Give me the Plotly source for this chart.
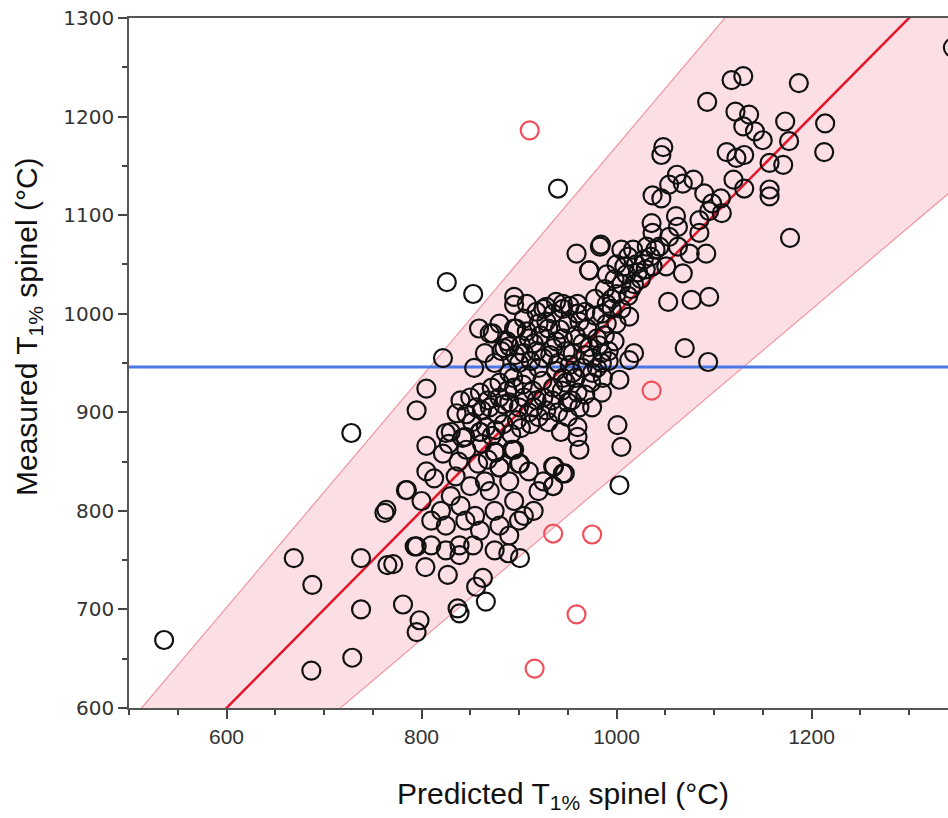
import plotly.graph_objects as go

# Predicted vs measured T1% spinel (°C)
pred_black = [
    536, 669, 688, 728, 738, 738, 729, 687, 762, 765, 771, 793, 795, 810, 825, 839, 853, 875, 889, 901,
    839, 804, 827, 863, 856, 866, 781, 798, 795, 837, 839,
    795, 805, 836, 825, 842, 860, 876, 893, 901, 805, 813, 880, 764, 784,
    1118, 1130, 1187, 1093, 1122, 1136, 1130, 1142, 1150, 1173, 1177, 1214, 1213, 1048, 1046, 1113, 1123,
    1131, 1157, 1171, 1062, 1068, 1079, 1054, 1037, 1046, 1120, 1131, 1157, 1157, 1090, 1098, 1107, 1108,
    1095, 1036, 1037, 1061, 1063, 1054, 1085, 1085, 1178, 984, 1345, 940,
    959, 983, 1005, 1017, 1031, 1044, 1063, 1075, 1092, 1068, 1051, 1037, 972, 1053, 1077, 1095, 1013,
    1018, 1013, 1070, 1094, 1003, 1001, 1005, 1003, 960, 962, 936, 947, 935,
    826, 853, 859, 873, 895, 895, 928, 897, 890, 822, 854, 805,
    905, 915, 925, 935, 945, 955, 965, 940, 920, 930, 950, 960, 970, 980, 990, 975, 985, 995, 1000, 1005,
    1010, 1015, 1020, 1025, 1030, 1000, 990, 960, 945, 935, 920, 910, 900, 890, 880, 895, 905, 915, 925,
    935, 945, 955, 965, 975, 985, 960, 950, 940, 930, 920, 910, 900, 890, 880, 870, 860, 850, 875, 865,
    885, 895, 905, 925, 870, 880,
    830, 845, 860, 875, 895, 900, 835, 850, 865, 880, 890, 910, 925, 935, 945, 935, 785, 800, 820, 840,
    855, 875, 895, 905, 920, 915, 870, 830, 845, 860, 880, 890, 900, 825, 810, 945, 960, 972, 990, 1000,
    882, 888, 896, 902, 908, 912, 918, 922, 928, 932, 938, 942, 948, 952, 958, 962, 968, 972, 978, 982,
    988, 992, 998, 968, 952, 938, 918, 908,
    862, 868, 872, 878, 884, 888, 894, 898, 904, 908, 914, 918, 924, 928, 934, 938, 944, 948, 954, 958,
    866, 876, 884, 892, 902, 912,
    985, 995, 1005, 1012, 1018, 1022, 1028, 1008, 998, 988, 978, 1035, 1040, 1012,
    822, 828, 838, 846, 852, 858, 862, 868, 872, 856, 846, 840,
    962, 968, 974, 980, 986, 992, 960, 950, 943, 975, 985,
]
meas_black = [
    669, 752, 725, 879, 752, 700, 651, 638, 798, 745, 746, 764, 764, 765, 760, 765, 765, 760, 757, 752,
    755, 743, 735, 732, 723, 708, 705, 689, 677, 701, 696,
    902, 866, 899, 879, 874, 880, 859, 862, 848, 840, 833, 844, 801, 821,
    1237, 1241, 1234, 1215, 1205, 1202, 1190, 1185, 1176, 1195, 1175, 1193, 1164, 1169, 1161, 1164, 1158,
    1161, 1153, 1151, 1141, 1132, 1136, 1131, 1120, 1117, 1136, 1127, 1126, 1119, 1122, 1112, 1117, 1102,
    1104, 1092, 1082, 1099, 1088, 1078, 1095, 1082, 1077, 1070, 1270, 1127,
    1061, 1068, 1065, 1065, 1068, 1068, 1068, 1061, 1061, 1041, 1048, 1048, 1044, 1012, 1014, 1017, 997,
    960, 953, 965, 951, 933, 887, 865, 826, 875, 862, 845, 838, 825,
    1032, 1020, 985, 980, 1017, 1009, 1007, 985, 967, 955, 945, 924,
    960, 970, 955, 965, 975, 960, 970, 950, 945, 985, 990, 1000, 985, 975, 990, 955, 960, 1005, 1020, 1030,
    1040, 1025, 1050, 1035, 1045, 990, 1010, 1010, 1005, 1000, 990, 975, 950, 940, 930, 925, 915, 905, 915,
    925, 935, 940, 945, 940, 950, 920, 910, 900, 890, 895, 900, 905, 910, 915, 905, 920, 915, 950, 960,
    965, 985, 995, 1005, 980, 990,
    880, 875, 880, 860, 862, 848, 835, 825, 830, 844, 830, 840, 830, 845, 838, 825, 821, 810, 800, 805,
    795, 800, 810, 795, 820, 800, 820, 815, 790, 780, 785, 775, 790, 785, 790, 1010, 1000, 1044, 1040, 1050,
    962, 972, 958, 968, 982, 952, 962, 978, 992, 958, 972, 984, 962, 948, 978, 992, 958, 966, 998, 968,
    978, 962, 972, 1002, 1008, 1012, 1002, 1010,
    902, 912, 925, 898, 908, 922, 935, 892, 928, 938, 922, 912, 932, 902, 912, 942, 922, 930, 912, 935,
    885, 882, 888, 878, 884, 888,
    1000, 1015, 1005, 1018, 1030, 1042, 1055, 1048, 1035, 1025, 1015, 1058, 1065, 1058,
    858, 868, 850, 862, 890, 848, 868, 852, 876, 905, 898, 912,
    905, 918, 930, 945, 935, 952, 885, 895, 880, 905, 920,
]
pred_red = [911, 1036, 935, 975, 959, 916]
meas_red = [1186, 922, 777, 776, 695, 640]

# Fitted line and band (ratio of measured to predicted)
fit_ratio = 1.0
upper_ratio = 1.17
lower_ratio = 0.837
reference_level = 946

x_ends = [480, 1400]

fig = go.Figure()

fig.add_trace(go.Scatter(
    x=x_ends + x_ends[::-1],
    y=[upper_ratio * v for v in x_ends] + [lower_ratio * v for v in x_ends[::-1]],
    fill="toself", fillcolor="rgba(251,214,220,0.78)",
    line=dict(color="rgba(240,140,150,0.9)", width=1.2),
    mode="lines", hoverinfo="skip", showlegend=False,
))
fig.add_trace(go.Scatter(
    x=x_ends, y=[fit_ratio * v for v in x_ends], mode="lines",
    line=dict(color="#e3162a", width=2.5), showlegend=False,
))
fig.add_trace(go.Scatter(
    x=x_ends, y=[reference_level, reference_level], mode="lines",
    line=dict(color="#4a78e6", width=3), showlegend=False,
))
fig.add_trace(go.Scatter(
    x=pred_black, y=meas_black, mode="markers",
    marker=dict(symbol="circle-open", size=18, color="#111111", line=dict(width=2.2)),
    showlegend=False,
))
fig.add_trace(go.Scatter(
    x=pred_red, y=meas_red, mode="markers",
    marker=dict(symbol="circle-open", size=18, color="#f0505c", line=dict(width=2.2)),
    showlegend=False,
))

fig.update_layout(
    width=948, height=818,
    margin=dict(l=129, r=0, t=18, b=110),
    plot_bgcolor="white", paper_bgcolor="white",
    xaxis=dict(
        range=[500, 1340], tickvals=[600, 800, 1000, 1200],
        ticks="outside", ticklen=9, tickcolor="#444", tickwidth=1.5,
        minor=dict(dtick=50, tick0=500, ticks="outside", ticklen=5, tickcolor="#444"),
        showline=True, linecolor="#555", linewidth=1.5, mirror=True,
        showgrid=False, zeroline=False,
        tickfont=dict(family="Liberation Sans", size=21, color="#333"),
    ),
    yaxis=dict(
        range=[600, 1300], tickvals=[600, 700, 800, 900, 1000, 1100, 1200, 1300],
        ticks="outside", ticklen=9, tickcolor="#444", tickwidth=1.5,
        minor=dict(dtick=50, tick0=600, ticks="outside", ticklen=5, tickcolor="#444"),
        showline=True, linecolor="#555", linewidth=1.5,
        showgrid=False, zeroline=False,
        tickfont=dict(family="DejaVu Sans", size=20, color="#333"),
    ),
    annotations=[
        dict(text="Predicted T<sub>1%</sub> spinel (°C)", xref="paper", yref="paper",
             x=(563 - 129) / 819, y=-(795 - 708) / 690, xanchor="center", yanchor="middle",
             showarrow=False, font=dict(family="Liberation Sans", size=30, color="#111")),
        dict(text="Measured T<sub>1%</sub> spinel (°C)", xref="paper", yref="paper",
             x=-(129 - 28) / 819, y=(708 - 327) / 690, xanchor="center", yanchor="middle",
             textangle=-90, showarrow=False,
             font=dict(family="Liberation Sans", size=30, color="#111")),
    ],
)

fig.write_html("out.html")
